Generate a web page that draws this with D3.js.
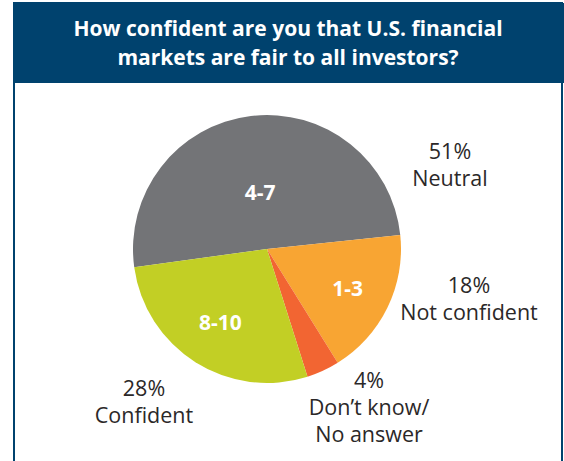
<!DOCTYPE html>
<html>
<head>
<meta charset="utf-8">
<script src="https://cdn.jsdelivr.net/npm/d3@7"></script>
<style>
  body { margin: 0; background: #fff; }
  svg { display: block; }
</style>
</head>
<body>
<script>
const titleLines = ["How confident are you that U.S. financial", "markets are fair to all investors?"];
const categories = ["Neutral", "Not confident", "Don’t know/", "Confident"];
const extraLines = [[], [], ["No answer"], []];
const sliceLabels = ["4-7", "1-3", "", "8-10"];
const values = [51, 18, 4, 28];
const colors = ["#737477", "#f8a533", "#f26532", "#c2cf25"];

const width = 564;
const height = 461;
const cx = 267;
const cy = 249;
const radius = 134;

const svg = d3.select("body")
  .append("svg")
  .attr("width", width)
  .attr("height", height);

// frame + header
svg.append("rect")
  .attr("x", 14).attr("y", 3)
  .attr("width", 548).attr("height", 480)
  .attr("fill", "#fff")
  .attr("stroke", "#00426e")
  .attr("stroke-width", 2);

svg.append("rect")
  .attr("x", 13).attr("y", 3)
  .attr("width", 551).attr("height", 80)
  .attr("fill", "#00426e");

svg.selectAll(".title")
  .data(titleLines)
  .enter()
  .append("text")
  .attr("class", "title")
  .attr("x", 288)
  .attr("y", (d, i) => 36 + i * 29)
  .attr("text-anchor", "middle")
  .attr("fill", "#fff")
  .style("font-family", "'Open Sans', sans-serif")
  .style("font-weight", "bold")
  .style("font-size", "21px")
  .text((d) => d);

// pie
const pie = d3.pie()
  .sort(null)
  .startAngle(-97.8 * Math.PI / 180)
  .endAngle((360 - 97.8) * Math.PI / 180);

const arc = d3.arc().innerRadius(0).outerRadius(radius);

const g = svg.append("g").attr("transform", `translate(${cx},${cy})`);
const arcs = pie(values);

g.selectAll("path")
  .data(arcs)
  .enter()
  .append("path")
  .attr("d", arc)
  .attr("fill", (d, i) => colors[i]);

// slice labels, distance from centre as share of radius
const labelRadius = [0.42, 0.67, 0, 0.65];
g.selectAll(".slice-label")
  .data(arcs)
  .enter()
  .append("text")
  .attr("class", "slice-label")
  .attr("transform", (d, i) => {
    const a = (d.startAngle + d.endAngle) / 2;
    const r = radius * labelRadius[i];
    return `translate(${Math.sin(a) * r},${-Math.cos(a) * r})`;
  })
  .attr("text-anchor", "middle")
  .attr("dy", "0.35em")
  .attr("fill", "#fff")
  .style("font-family", "'Open Sans', sans-serif")
  .style("font-weight", "bold")
  .style("font-size", "21px")
  .text((d, i) => sliceLabels[i]);

// outside labels
const outside = [
  { x: 450, y: 159 },
  { x: 469, y: 293 },
  { x: 369, y: 388 },
  { x: 144, y: 396 }
];

outside.forEach((p, i) => {
  const parts = [values[i] + "%", categories[i]].concat(extraLines[i]);
  svg.append("text")
    .attr("text-anchor", "middle")
    .attr("fill", "#2b2828")
    .style("font-family", "'Open Sans', sans-serif")
    .style("font-size", "21.5px")
    .selectAll("tspan")
    .data(parts)
    .enter()
    .append("tspan")
    .attr("x", p.x)
    .attr("y", (d, j) => p.y + j * 27)
    .text((d) => d);
});
</script>
</body>
</html>
